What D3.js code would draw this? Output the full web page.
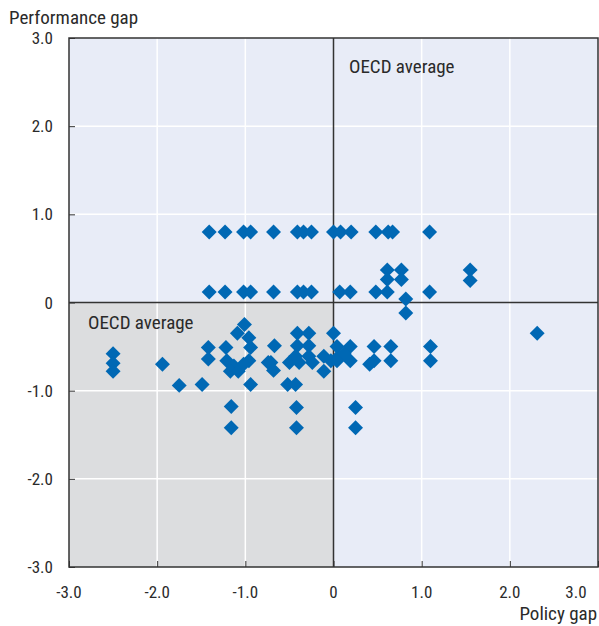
<!DOCTYPE html>
<html><head><meta charset="utf-8">
<script src="https://cdn.jsdelivr.net/npm/d3@7"></script>
<style>
body{margin:0;background:#fff;}
text{font-family:"Liberation Sans Narrow","Arial Narrow","Roboto Condensed","Liberation Sans",sans-serif;fill:#2a2a2a;}
</style></head><body>
<svg id="c" width="599" height="626"></svg>
<script>
// Data: policy gap (x) and performance gap (y)
const policyGap = [
 -1.41,-1.23,-1.02,-0.94,-0.68,-0.41,-0.34,-0.25,0.0,0.08,0.2,0.48,0.62,0.67,1.09,
 -1.41,-1.23,-1.02,-0.94,-0.68,-0.41,-0.34,-0.25,0.07,0.19,0.48,0.61,1.09,
 0.61,0.77,0.61,0.77,0.82,0.82,1.55,1.55,2.31,
 -2.50,-2.50,-2.50,-1.94,-1.75,-1.49,-1.16,-1.16,-0.94,
 -1.01,-1.09,-0.96,-1.42,-1.42,-1.22,-0.94,-1.21,-1.13,-1.17,-1.08,-0.96,-1.02,
 -0.74,-0.41,-0.28,0.0,-0.67,-0.41,-0.28,-0.71,-0.68,-0.50,-0.43,-0.28,-0.39,-0.24,-0.11,-0.11,-0.03,0.06,-0.52,-0.43,-0.42,-0.42,
 0.04,0.19,0.12,0.04,0.19,0.46,0.65,0.46,0.65,0.41,1.1,1.1,0.25,0.25
];
const performanceGap = [
 0.8,0.8,0.8,0.8,0.8,0.8,0.8,0.8,0.8,0.8,0.8,0.8,0.8,0.8,0.8,
 0.12,0.12,0.12,0.12,0.12,0.12,0.12,0.12,0.12,0.12,0.12,0.12,0.12,
 0.37,0.37,0.26,0.26,0.04,-0.12,0.37,0.25,-0.35,
 -0.58,-0.69,-0.78,-0.70,-0.94,-0.93,-1.18,-1.42,-0.93,
 -0.25,-0.35,-0.40,-0.51,-0.64,-0.51,-0.51,-0.66,-0.72,-0.78,-0.78,-0.66,-0.70,
 -0.68,-0.35,-0.35,-0.35,-0.49,-0.49,-0.49,-0.68,-0.77,-0.68,-0.61,-0.61,-0.68,-0.68,-0.61,-0.78,-0.66,-0.61,-0.93,-0.93,-1.19,-1.42,
 -0.5,-0.5,-0.58,-0.66,-0.66,-0.5,-0.5,-0.66,-0.66,-0.70,-0.5,-0.66,-1.19,-1.42
];
const tickValues = [-3,-2,-1,0,1,2,3];
const tickLabels = ["-3.0","-2.0","-1.0","0","1.0","2.0","3.0"];
const xTitle = "Policy gap";
const yTitle = "Performance gap";
const avgLabel = "OECD average";

const svg = d3.select("#c");
const L=69, R=598, T=38, B=567;
const x = d3.scaleLinear().domain([-3,3]).range([L,R]);
const y = d3.scaleLinear().domain([-3,3]).range([B,T]);

// backgrounds
svg.append("rect").attr("x",L).attr("y",T).attr("width",R-L).attr("height",B-T).attr("fill","#e8ecf7");
svg.append("rect").attr("x",L).attr("y",y(0)).attr("width",x(0)-L).attr("height",B-y(0)).attr("fill","#dcdddf");

// gridlines
const g = svg.append("g");
[-2,-1,1,2].forEach(v=>{
  g.append("line").attr("x1",x(v)).attr("x2",x(v)).attr("y1",T).attr("y2",B).attr("stroke","#fff").attr("stroke-width",1.5);
  g.append("line").attr("x1",L).attr("x2",R).attr("y1",y(v)).attr("y2",y(v)).attr("stroke","#fff").attr("stroke-width",1.5);
});

// zero lines
svg.append("line").attr("x1",x(0)).attr("x2",x(0)).attr("y1",T).attr("y2",B).attr("stroke","#333").attr("stroke-width",1.5);
svg.append("line").attr("x1",L).attr("x2",R).attr("y1",y(0)).attr("y2",y(0)).attr("stroke","#333").attr("stroke-width",1.5);

// axes (inner ticks)
const fmt = v => tickLabels[tickValues.indexOf(v)];
const xAxis = svg.append("g").attr("transform",`translate(0,${B})`)
  .call(d3.axisTop(x).tickValues(tickValues).tickFormat("").tickSize(6).tickSizeOuter(0));
const yAxis = svg.append("g").attr("transform",`translate(${L},0)`)
  .call(d3.axisRight(y).tickValues(tickValues).tickFormat("").tickSize(6).tickSizeOuter(0));
[xAxis,yAxis].forEach(a=>{a.select(".domain").remove(); a.selectAll("line").attr("stroke","#333");});

// border
svg.append("rect").attr("x",L).attr("y",T).attr("width",R-L).attr("height",B-T).attr("fill","none").attr("stroke","#333").attr("stroke-width",1.5);

// tick labels
svg.append("g").selectAll("text").data(tickValues).join("text")
  .attr("x",d=>d===3 ? x(d)-22 : x(d)).attr("y",B+31).attr("text-anchor","middle").attr("font-size",17).text(fmt);
svg.append("g").selectAll("text").data(tickValues).join("text")
  .attr("x",53).attr("y",d=>y(d)+6).attr("text-anchor","end").attr("font-size",17).text(fmt);

// titles
svg.append("text").attr("x",9).attr("y",24).attr("font-size",19).text(yTitle);
svg.append("text").attr("x",597).attr("y",620).attr("text-anchor","end").attr("font-size",19).text(xTitle);
svg.append("text").attr("x",349).attr("y",73).attr("font-size",19).text(avgLabel);
svg.append("text").attr("x",88).attr("y",329).attr("font-size",19).text(avgLabel);

// points
const sym = d3.symbol().type(d3.symbolSquare).size(112);
svg.append("g").selectAll("path").data(policyGap.map((p,i)=>[p,performanceGap[i]])).join("path")
  .attr("d",sym)
  .attr("transform",d=>`translate(${x(d[0])},${y(d[1])}) rotate(45)`)
  .attr("fill","#0068b4");
</script>
</body></html>
